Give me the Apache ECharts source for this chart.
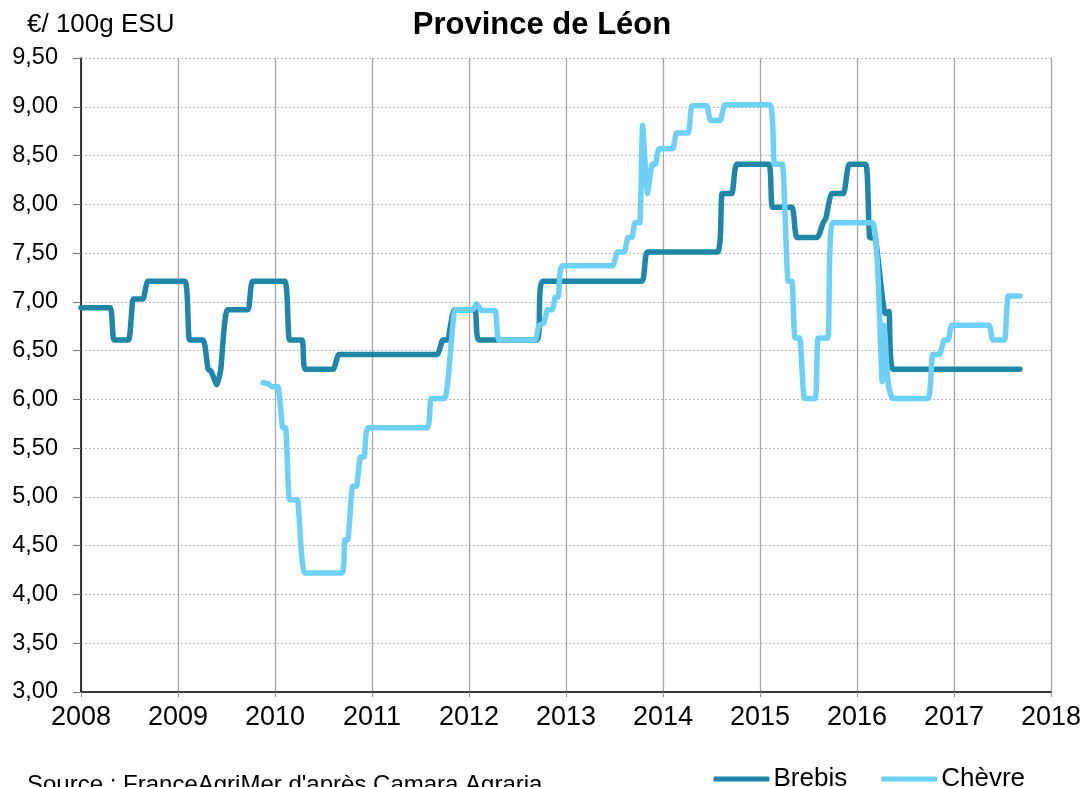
<!DOCTYPE html>
<html><head><meta charset="utf-8">
<script src="https://cdn.jsdelivr.net/npm/echarts@6/dist/echarts.min.js"></script>
<style>html,body{margin:0;padding:0;background:#fff}#c{width:1086px;height:787px}</style>
</head><body><div id="c"></div>
<script>
const titleText = 'Province de Léon';
const unitText = '€/ 100g ESU';
const sourceText = "Source : FranceAgriMer d'après Camara Agraria";
const seriesNames = ['Brebis', 'Chèvre'];
const brebisX = [2008.00,2008.30,2008.34,2008.49,2008.54,2008.64,2008.69,2009.07,2009.12,2009.26,2009.31,2009.34,2009.40,2009.44,2009.51,2009.72,2009.77,2010.10,2010.15,2010.28,2010.31,2010.60,2010.66,2011.67,2011.73,2011.78,2011.85,2012.06,2012.10,2012.70,2012.76,2013.78,2013.84,2014.56,2014.61,2014.71,2014.76,2015.09,2015.13,2015.33,2015.38,2015.59,2015.65,2015.68,2015.74,2015.86,2015.92,2016.09,2016.13,2016.19,2016.29,2016.33,2016.37,2017.68];
const brebisY = [6.94,6.94,6.61,6.61,7.03,7.03,7.21,7.21,6.61,6.61,6.31,6.29,6.15,6.30,6.92,6.92,7.21,7.21,6.61,6.61,6.31,6.31,6.46,6.46,6.61,6.61,6.92,6.92,6.61,6.61,7.21,7.21,7.51,7.51,8.11,8.11,8.41,8.41,7.97,7.97,7.66,7.66,7.81,7.86,8.11,8.11,8.41,8.41,7.66,7.65,6.88,6.90,6.31,6.31];
const chevreX = [2009.876,2009.93,2009.97,2010.03,2010.08,2010.11,2010.15,2010.23,2010.31,2010.69,2010.72,2010.75,2010.80,2010.84,2010.88,2010.92,2010.96,2011.57,2011.61,2011.75,2011.82,2011.86,2012.04,2012.08,2012.13,2012.27,2012.31,2012.68,2012.72,2012.77,2012.81,2012.86,2012.89,2012.92,2012.96,2013.48,2013.53,2013.60,2013.64,2013.68,2013.71,2013.76,2013.79,2013.84,2013.89,2013.92,2013.96,2014.10,2014.14,2014.26,2014.30,2014.45,2014.49,2014.59,2014.64,2015.10,2015.15,2015.23,2015.29,2015.33,2015.36,2015.41,2015.46,2015.57,2015.60,2015.70,2015.75,2016.16,2016.26,2016.28,2016.32,2016.37,2016.73,2016.78,2016.85,2016.90,2016.94,2016.98,2017.36,2017.40,2017.52,2017.56,2017.68];
const chevreY = [6.17,6.16,6.13,6.13,5.71,5.71,4.97,4.97,4.22,4.22,4.56,4.56,5.11,5.11,5.41,5.41,5.71,5.71,6.01,6.01,6.61,6.92,6.92,6.98,6.91,6.91,6.61,6.61,6.76,6.78,6.92,6.92,7.05,7.05,7.37,7.37,7.51,7.51,7.66,7.66,7.81,7.81,8.81,8.11,8.41,8.41,8.57,8.57,8.73,8.73,9.01,9.01,8.86,8.86,9.02,9.02,8.41,8.41,7.21,7.21,6.63,6.63,6.01,6.01,6.63,6.63,7.81,7.81,6.18,6.76,6.17,6.01,6.01,6.46,6.46,6.61,6.61,6.76,6.76,6.61,6.61,7.06,7.06];
const colors = ['#1f86a7', '#6fd0f6'];

const zip = (xs, ys) => xs.map((x, i) => [x, ys[i]]);
const chart = echarts.init(document.getElementById('c'));
const font = 'Liberation Sans, Arial, sans-serif';
chart.setOption({
  animation: false,
  textStyle: { fontFamily: font },
  title: [
    { text: titleText, left: 537, top: 5, textAlign: 'center', textStyle: { fontSize: 31, fontWeight: 'bold', color: '#000', fontFamily: font } },
    { text: unitText, left: 22, top: 7, textStyle: { fontSize: 26, fontWeight: 'normal', color: '#000', fontFamily: font } },
    { text: sourceText, left: 22, top: 768, textStyle: { fontSize: 24, fontWeight: 'normal', color: '#000', fontFamily: font } }
  ],
  legend: {
    data: seriesNames, right: 56, top: 761, itemWidth: 56, itemHeight: 5, itemGap: 34, icon: 'roundRect',
    textStyle: { fontSize: 26, color: '#000', fontFamily: font, padding: [0, 0, 0, -1] }
  },
  grid: { left: 81, right: 35, top: 58, bottom: 95 },
  xAxis: {
    type: 'value', min: 2008, max: 2018, interval: 1,
    axisLine: { lineStyle: { color: '#000', width: 1.5 } },
    axisTick: { show: true, length: 5, lineStyle: { color: '#999' } },
    axisLabel: { fontSize: 27, color: '#000', margin: 12, formatter: v => String(v) },
    splitLine: { show: true, lineStyle: { color: '#a6a6a6', width: 1.3 } }
  },
  yAxis: {
    type: 'value', min: 3, max: 9.5, interval: 0.5,
    axisLine: { show: true, lineStyle: { color: '#000', width: 1.5 } },
    axisTick: { show: true, length: 8, lineStyle: { color: '#777' } },
    axisLabel: { fontSize: 23.5, color: '#000', margin: 23, formatter: v => v.toFixed(2).replace('.', ',') },
    splitLine: { show: true, lineStyle: { color: '#bbbbbb', type: [2, 2], width: 1 } }
  },
  series: [
    { name: seriesNames[0], type: 'line', data: zip(brebisX, brebisY), showSymbol: false, smooth: 0.15, color: colors[0],
      lineStyle: { width: 5.5, color: colors[0], cap: 'round', join: 'round' } },
    { name: seriesNames[1], type: 'line', data: zip(chevreX, chevreY), showSymbol: false, smooth: 0.15, color: colors[1],
      lineStyle: { width: 5.5, color: colors[1], cap: 'round', join: 'round' } }
  ]
});
</script></body></html>
